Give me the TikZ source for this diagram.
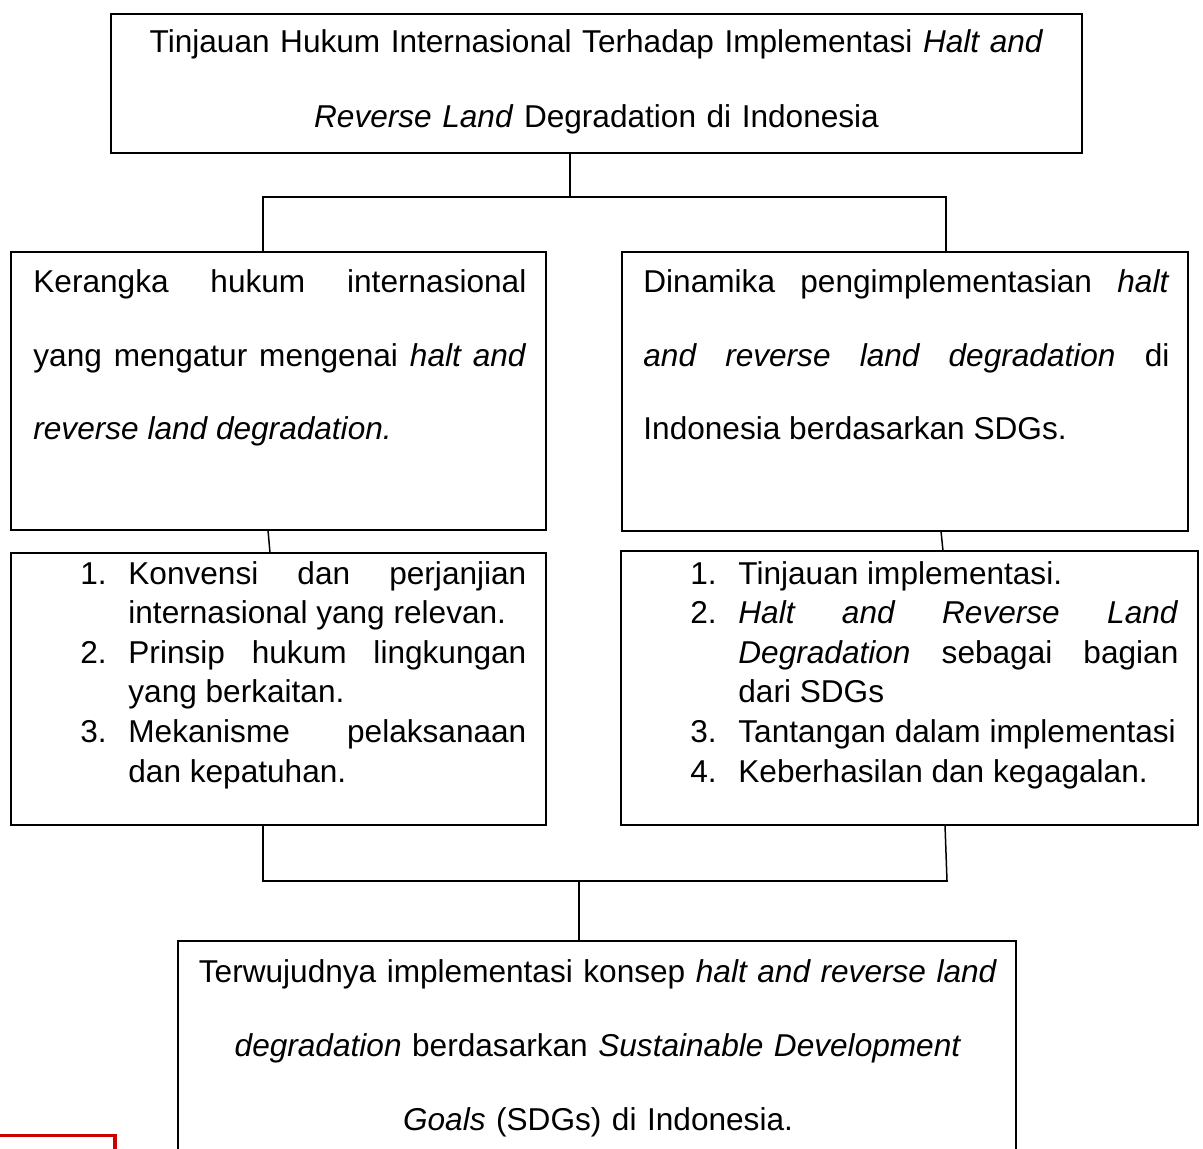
\documentclass[tikz,border=0pt]{standalone}
\usepackage{fontspec}
\setmainfont{Liberation Sans}
\usetikzlibrary{calc,positioning}
\definecolor{merah}{RGB}{204,0,0}
\tolerance=10000
\hyphenpenalty=10000
\newcommand{\butir}[2]{\noindent\hangindent=24pt\hangafter=1\makebox[24pt][l]{#1}#2\par}

\begin{document}
\begin{tikzpicture}[x=0.5pt,y=-0.5pt,
  kotak/.style={draw,line width=0.75pt,rectangle,inner sep=0pt,outer sep=0pt,anchor=north west},
  teks/.style={inner sep=0pt,anchor=base west,align=justify,font=\fontsize{15.8}{36.75}\selectfont},
  daftar/.style={inner sep=0pt,anchor=base west,align=justify,font=\fontsize{15.8}{19.8}\selectfont},
  tengah/.style={inner sep=0pt,anchor=base,align=center}]
\useasboundingbox (0,0) rectangle (1203,1149);
% kotak-kotak
\node[kotak,minimum width=485.5pt,minimum height=69.5pt] (judul) at (111,14) {};
\node[kotak,minimum width=267.5pt,minimum height=139pt] (kiri1) at (11,252) {};
\node[kotak,minimum width=283pt,minimum height=139.5pt] (kanan1) at (622,252) {};
\node[kotak,minimum width=267.5pt,minimum height=136pt] (kiri2) at (11,553) {};
\node[kotak,minimum width=288.5pt,minimum height=137pt] (kanan2) at (621,551) {};
\node[kotak,minimum width=419pt,minimum height=115pt] (hasil) at (178,941) {};
% teks
\node[tengah,text width=470pt,font=\fontsize{15.8}{37.5}\selectfont] (judulteks) at ($(judul.north west)+(485.5,39)$)
  {Tinjauan Hukum Internasional Terhadap Implementasi \textit{Halt and}\\\textit{Reverse Land} Degradation di Indonesia};
\node[teks,text width=246.5pt] (kiri1teks) at ($(kiri1.north west)+(22,41)$)
  {Kerangka hukum internasional\linebreak yang mengatur mengenai \textit{halt and}\linebreak \textit{reverse land degradation.}};
\node[teks,text width=263pt] (kanan1teks) at ($(kanan1.north west)+(21,41)$)
  {Dinamika pengimplementasian \textit{halt}\linebreak \textit{and reverse land degradation} di\linebreak Indonesia berdasarkan SDGs.};
\node[daftar,text width=223pt] (kiri2teks) at ($(kiri2.north west)+(69,31)$) {%
  \butir{1.}{Konvensi dan perjanjian\linebreak internasional yang relevan.}
  \butir{2.}{Prinsip hukum lingkungan\linebreak yang berkaitan.}
  \butir{3.}{Mekanisme pelaksanaan\linebreak dan kepatuhan.}};
\node[daftar,text width=244pt] (kanan2teks) at ($(kanan2.north west)+(69,33)$) {%
  \butir{1.}{Tinjauan implementasi.}
  \butir{2.}{\textit{Halt and Reverse Land}\linebreak \textit{Degradation} sebagai bagian\linebreak dari SDGs}
  \butir{3.}{\mbox{Tantangan dalam implementasi}}
  \butir{4.}{Keberhasilan dan kegagalan.}};
\node[tengah,text width=410pt,font=\fontsize{15.8}{37}\selectfont] (hasilteks) at ($(hasil.north west)+(420,41)$)
  {Terwujudnya implementasi konsep \textit{halt and reverse land}\\\textit{degradation} berdasarkan \textit{Sustainable Development}\\\textit{Goals} (SDGs) di Indonesia.};
% garis penghubung
\draw[line width=0.75pt] ($(judul.south)+(-26.5,0)$) -- ++(0,44) coordinate (bagi);
\draw[line width=0.75pt] ($(kiri1.north west)+(252,0)$) |- (bagi) -| ($(kanan1.north west)+(324,0)$);
\draw[line width=0.75pt] ($(kiri1.south west)+(257,0)$) -- ($(kiri2.north west)+(259,0)$);
\draw[line width=0.75pt] ($(kanan1.south west)+(319,0)$) -- ($(kanan2.north west)+(322,0)$);
\draw[line width=0.75pt] ($(kiri2.south west)+(252,0)$) -- ++(0,56) coordinate (gabungkiri);
\draw[line width=0.75pt] ($(kanan2.south west)+(324,0)$) -- ++(2,56) coordinate (gabungkanan);
\draw[line width=0.75pt] ($(gabungkiri)+(-1,0)$) -- ($(gabungkanan)+(1,0)$);
\draw[line width=0.75pt] ($(hasil.north)+(-18,0)$) -- ++(0,-60);
% tepi merah di pojok kiri bawah
\draw[line width=1.6pt,draw=merah] (-5,1135.5) -- (115,1135.5) -- (115,1165);
\end{tikzpicture}
\end{document}
